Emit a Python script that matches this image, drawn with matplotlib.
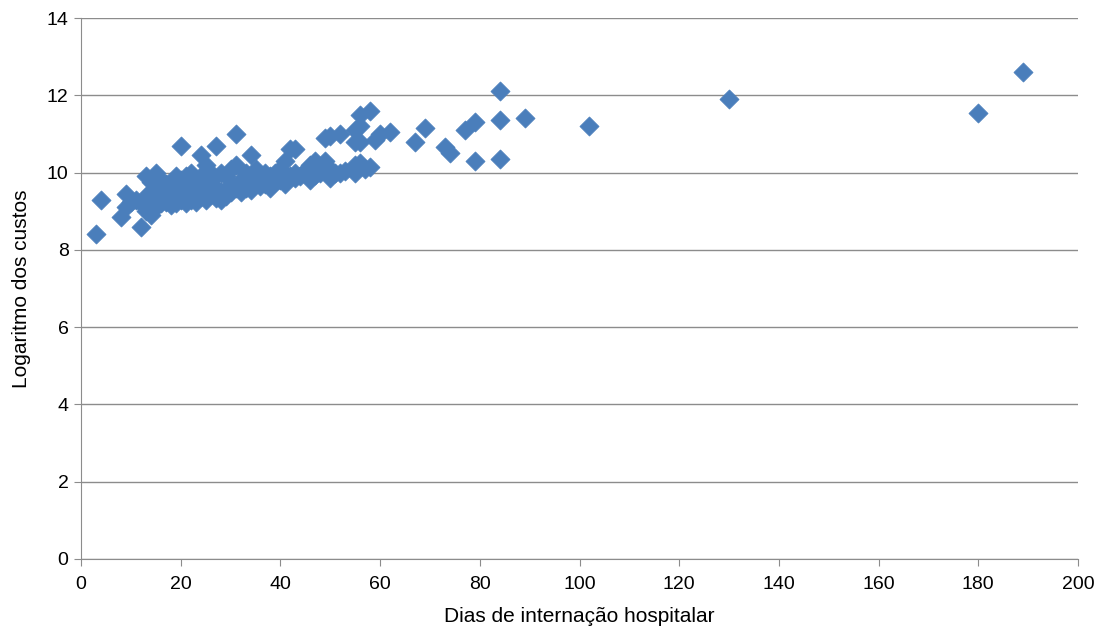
import matplotlib.pyplot as plt

plt.rcParams['font.family'] = ['Liberation Sans', 'DejaVu Sans']

# dias de internação x logaritmo dos custos
dias = [3, 4, 8, 9, 9, 10, 11, 12, 12, 13, 13, 13,
        14, 14, 14, 14, 15, 15, 15, 15, 16, 16, 16, 17, 17, 17,
        18, 18, 18, 19, 19, 19, 20, 20, 20, 20, 21, 21, 21,
        22, 22, 22, 23, 23, 23, 24, 24, 24, 25, 25, 25, 25,
        26, 26, 26, 27, 27, 27, 28, 28, 28, 29, 29, 30, 30, 30,
        31, 31, 31, 32, 32, 33, 33, 34, 34, 34, 35, 35, 36, 36,
        37, 37, 38, 38, 39, 39, 40, 40, 41, 41, 42, 42, 43, 43, 43,
        44, 45, 46, 46, 47, 47, 48, 49, 49, 50, 50, 50, 51, 52, 52,
        53, 55, 55, 55, 55, 56, 56, 56, 56, 57, 58, 58, 59, 60, 62,
        67, 69, 73, 74, 77, 79, 79, 84, 84, 84, 89, 102, 130, 180, 189]
log_custos = [8.42, 9.3, 8.85, 9.45, 9.1, 9.25, 9.3, 8.6, 9.2, 9.9, 9.4, 9.0,
              9.5, 8.9, 9.2, 9.75, 10.0, 9.6, 9.1, 9.3, 9.8, 9.4, 9.2, 9.5, 9.7, 9.25,
              9.3, 9.6, 9.15, 9.9, 9.45, 9.2, 10.7, 9.6, 9.3, 9.8, 9.9, 9.4, 9.2,
              9.7, 10.0, 9.3, 9.5, 9.25, 9.8, 10.45, 9.9, 9.4, 10.2, 9.6, 9.3, 9.5,
              9.8, 9.45, 10.0, 10.7, 9.6, 9.35, 10.0, 9.5, 9.3, 9.9, 9.4, 9.7, 10.1, 9.5,
              11.0, 10.2, 9.6, 9.8, 9.5, 10.0, 9.6, 10.45, 9.7, 9.55, 10.1, 9.8, 9.65, 9.9,
              9.7, 10.0, 9.6, 9.9, 10.0, 9.75, 9.8, 10.1, 9.7, 10.3, 10.6, 9.9, 10.6, 10.0, 9.85,
              9.9, 10.05, 9.8, 10.2, 10.3, 9.95, 10.0, 10.3, 10.9, 9.85, 10.1, 10.95, 10.0, 11.0, 10.0,
              10.05, 11.1, 10.0, 10.2, 10.8, 11.5, 11.2, 10.25, 10.8, 10.1, 11.6, 10.15, 10.85, 11.0, 11.05,
              10.8, 11.15, 10.65, 10.5, 11.1, 11.3, 10.3, 12.1, 11.35, 10.35, 11.4, 11.2, 11.9, 11.55, 12.6]

fig = plt.figure(figsize=(11.07, 6.34), dpi=100)
ax = fig.add_axes([0.0732, 0.1183, 0.9006, 0.8533])

ax.scatter(dias, log_custos, marker='D', s=95, color='#4a7ebb',
           edgecolors='#4a7ebb', linewidths=0.5, zorder=3)

ax.set_xlim(0, 200)
ax.set_ylim(0, 14)
ax.set_xticks(range(0, 201, 20))
ax.set_yticks(range(0, 15, 2))
ax.yaxis.grid(True, color='#8c8c8c', linewidth=1)
ax.set_axisbelow(True)

for side in ['top', 'right']:
    ax.spines[side].set_visible(False)
for side in ['left', 'bottom']:
    ax.spines[side].set_color('#8c8c8c')
ax.tick_params(direction='out', length=5, color='#8c8c8c', labelsize=14)
ax.tick_params(axis='x', pad=7)
ax.tick_params(axis='y', pad=4)

ax.set_xlabel('Dias de internação hospitalar', fontsize=15, labelpad=10)
ax.set_ylabel('Logaritmo dos custos', fontsize=15, labelpad=11)

fig.savefig('out.png', dpi=100)
